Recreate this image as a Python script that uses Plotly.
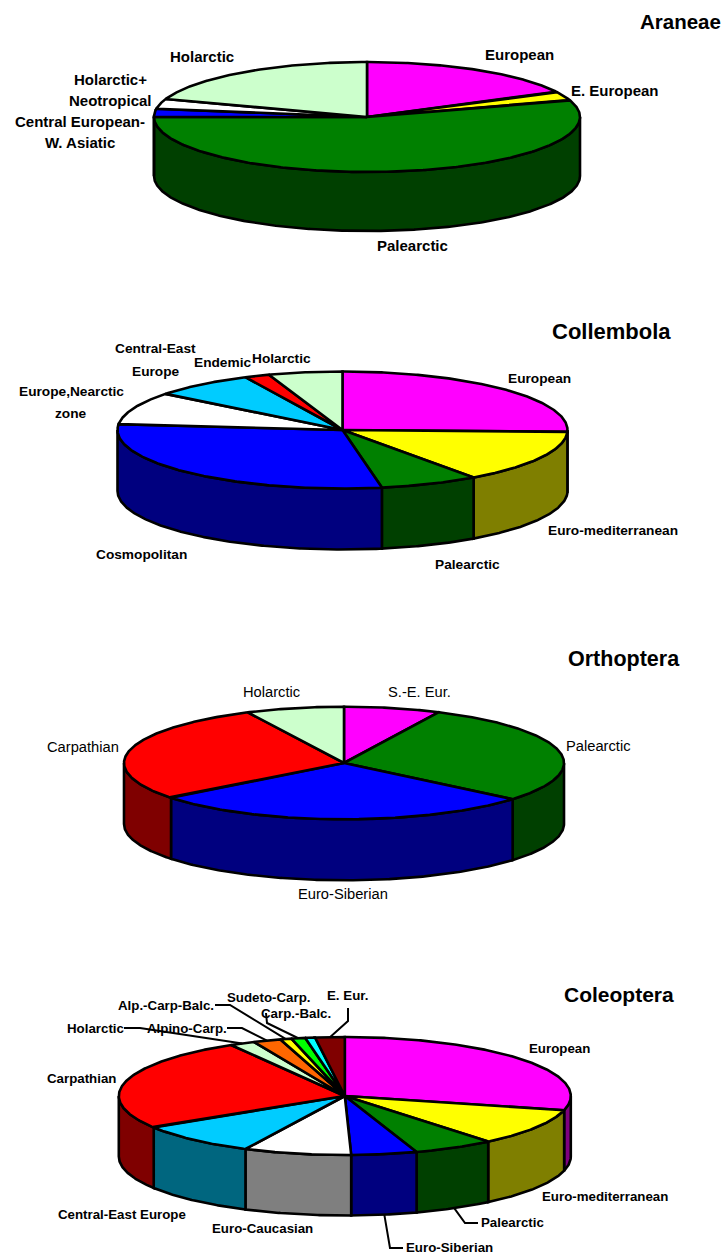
import numpy as np
import plotly.graph_objects as go

MAGENTA, YELLOW, GREEN, BLUE = "#FF00FF", "#FFFF00", "#008000", "#0000FF"
WHITE, SKY, RED, MINT = "#FFFFFF", "#00CCFF", "#FF0000", "#CCFFCC"
ORANGE, LIME, CYAN, MAROON = "#FF6600", "#00FF00", "#00FFFF", "#800000"

araneae_labels = ["European", "E. European", "Palearctic", "Central European-W. Asiatic",
                  "Holarctic+Neotropical", "Holarctic"]
araneae_values = [17.4, 2.6, 55.0, 2.4, 2.9, 19.7]
araneae_colors = [MAGENTA, YELLOW, GREEN, BLUE, WHITE, MINT]

collembola_labels = ["European", "Euro-mediterranean", "Palearctic", "Cosmopolitan",
                     "Europe,Nearctic zone", "Central-East Europe", "Endemic", "Holarctic"]
collembola_values = [25.5, 14.6, 7.1, 29.4, 9.0, 7.3, 1.8, 5.3]
collembola_colors = [MAGENTA, YELLOW, GREEN, BLUE, WHITE, SKY, RED, MINT]

orthoptera_labels = ["S.-E. Eur.", "Palearctic", "Euro-Siberian", "Carpathian", "Holarctic"]
orthoptera_values = [7.1, 29.0, 28.3, 28.4, 7.2]
orthoptera_colors = [MAGENTA, GREEN, BLUE, RED, MINT]

coleoptera_labels = ["European", "Euro-mediterranean", "Palearctic", "Euro-Siberian",
                     "Euro-Caucasian", "Central-East Europe", "Carpathian", "Holarctic",
                     "Alpino-Carp.", "Alp.-Carp-Balc.", "Carp.-Balc.", "Sudeto-Carp.", "E. Eur."]
coleoptera_values = [28.9, 10.2, 5.8, 4.7, 7.7, 8.8, 25.6, 1.8, 2.0, 0.8, 1.0, 0.7, 2.1]
coleoptera_colors = [MAGENTA, YELLOW, GREEN, BLUE, WHITE, SKY, RED, MINT,
                     ORANGE, YELLOW, LIME, CYAN, MAROON]

# layout only: centre x, centre y, x radius, y radius, wall depth
charts = [
    ("Araneae", araneae_labels, araneae_values, araneae_colors, (367, 117, 213, 55, 59)),
    ("Collembola", collembola_labels, collembola_values, collembola_colors, (342.5, 430, 225, 58.5, 61)),
    ("Orthoptera", orthoptera_labels, orthoptera_values, orthoptera_colors, (344, 763, 220, 56.3, 61)),
    ("Coleoptera", coleoptera_labels, coleoptera_values, coleoptera_colors, (344.8, 1096, 226, 59, 60.5)),
]

FONT = "Liberation Sans"
# text, x, y, size, bold
texts = [
    ("Araneae", 680, 21, 20.5, True), ("Collembola", 611, 331, 22, True),
    ("Orthoptera", 624, 659, 21.5, True), ("Coleoptera", 619, 994, 21, True),
    ("Holarctic", 202, 56, 15, True), ("European", 519, 54, 15, True),
    ("E. European", 615, 90, 15, True), ("Holarctic+", 110, 79, 15, True),
    ("Neotropical", 110, 100, 15, True), ("Central European-", 80, 121, 15, True),
    ("W. Asiatic", 80, 142, 15, True), ("Palearctic", 412, 245, 15, True),
    ("Central-East", 155, 348, 13.7, True), ("Europe", 156, 371, 13.7, True),
    ("Endemic", 222, 362, 13.7, True), ("Holarctic", 281, 358, 13.7, True),
    ("European", 539, 378, 13.7, True), ("Europe,Nearctic", 71, 391, 13.7, True),
    ("zone", 71, 413, 13.7, True), ("Euro-mediterranean", 613, 530, 13.7, True),
    ("Palearctic", 467, 564, 13.7, True), ("Cosmopolitan", 141, 554, 13.7, True),
    ("Holarctic", 271, 692, 14.7, False), ("S.-E. Eur.", 419, 692, 14.7, False),
    ("Palearctic", 598, 746, 14.7, False), ("Carpathian", 83, 747, 14.7, False),
    ("Euro-Siberian", 343, 894, 14.7, False),
    ("European", 559, 1048, 13.3, True), ("Carpathian", 81, 1078, 13.3, True),
    ("Euro-mediterranean", 605, 1196, 13.3, True), ("Central-East Europe", 122, 1214, 13.3, True),
    ("Euro-Caucasian", 262, 1228, 13.3, True), ("Palearctic", 512, 1222, 13.3, True),
    ("Euro-Siberian", 449, 1247, 13.3, True), ("Holarctic", 95, 1028, 13.3, True),
    ("Alpino-Carp.", 187, 1028, 13.3, True), ("Alp.-Carp-Balc.", 166, 1005, 13.3, True),
    ("Sudeto-Carp.", 268, 997, 13.3, True), ("Carp.-Balc.", 296, 1013, 13.3, True),
    ("E. Eur.", 347, 995, 13.3, True),
]

# Coleoptera leader lines: slice index, elbow points, on wall (True) or top rim
leaders = [
    (7, [(124, 1028), (140, 1028)], False),
    (8, [(227, 1028), (242, 1028)], False),
    (9, [(215, 1005), (230, 1005)], False),
    (10, [(266, 1013), (267, 1023)], False),
    (12, [(348, 1008), (348, 1021)], False),
    (2, [(478, 1223), (465, 1223)], True),
    (3, [(403, 1248), (390, 1248)], True),
]


def ell(g, t, drop=0.0):
    cx, cy, rx, ry, _ = g
    t = np.radians(t)
    return cx + rx * np.sin(t), cy - ry * np.cos(t) + drop


def arc(a, b):
    return np.linspace(a, b, max(2, int(abs(b - a) * 2) + 1))


def bounds(values):
    v = np.asarray(values, dtype=float)
    edges = np.concatenate([[0], np.cumsum(v)]) / v.sum() * 360
    return edges[:-1], edges[1:]


def shade(c):
    r, g, b = (int(c[i:i + 2], 16) // 2 for i in (1, 3, 5))
    return f"#{r:02X}{g:02X}{b:02X}"


def poly(fig, x, y, color, name):
    fig.add_trace(go.Scatter(
        x=x, y=y, mode="lines", fill="toself", fillcolor=color,
        line=dict(color="black", width=2.6), name=name, hoverinfo="name",
        showlegend=False))


fig = go.Figure()
for title, labels, values, colors, g in charts:
    starts, ends = bounds(values)
    depth = g[4]
    # walls: only the part of each slice facing the viewer (90 to 270 degrees)
    for lab, col, a, b in zip(labels, colors, starts, ends):
        lo, hi = max(a, 90), min(b, 270)
        if hi > lo:
            t = arc(lo, hi)
            x1, y1 = ell(g, t)
            x2, y2 = ell(g, t[::-1], depth)
            poly(fig, np.r_[x1, x2, x1[0]], np.r_[y1, y2, y1[0]], shade(col), f"{title}: {lab}")
    for lab, col, v, a, b in zip(labels, colors, values, starts, ends):
        x, y = ell(g, arc(a, b))
        poly(fig, np.r_[g[0], x, g[0]], np.r_[g[1], y, g[1]], col, f"{title}: {lab} ({v})")

# leader lines end at the middle of their slice
g = charts[3][4]
starts, ends = bounds(coleoptera_values)
for idx, pts, wall in leaders:
    mid = (starts[idx] + ends[idx]) / 2
    ex, ey = ell(g, mid, g[4] if wall else 0)
    xs = [p[0] for p in pts] + [float(ex)]
    ys = [p[1] for p in pts] + [float(ey)]
    fig.add_trace(go.Scatter(x=xs, y=ys, mode="lines", line=dict(color="black", width=2),
                             hoverinfo="skip", showlegend=False))

for txt, x, y, size, bold in texts:
    fig.add_annotation(x=x, y=y, text=f"<b>{txt}</b>" if bold else txt, showarrow=False,
                       xanchor="center", yanchor="middle",
                       font=dict(family=FONT, size=size, color="black"))

fig.update_layout(
    width=725, height=1256, margin=dict(l=0, r=0, t=0, b=0),
    paper_bgcolor="white", plot_bgcolor="white", showlegend=False,
    xaxis=dict(range=[0, 725], visible=False, fixedrange=True),
    yaxis=dict(range=[1256, 0], visible=False, fixedrange=True),
)
fig.write_html("out.html", config={"displayModeBar": False},
               post_script="document.body.style.margin='0';document.body.style.overflow='hidden';")
